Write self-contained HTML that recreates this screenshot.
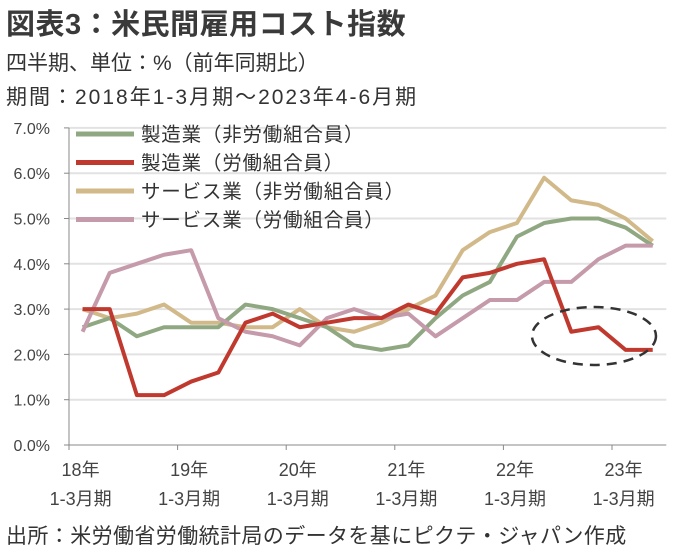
<!DOCTYPE html>
<html><head><meta charset="utf-8"><style>
body{margin:0;background:#fff;width:688px;height:558px;overflow:hidden;font-family:"Liberation Sans","Noto Sans CJK JP",sans-serif;color:#333}
.t{position:absolute;left:6px;white-space:nowrap}
</style></head><body>
<div class="t" style="top:1px;font-size:29px;font-weight:bold;color:#3a3a3a;letter-spacing:0.5px">図表3：米民間雇用コスト指数</div>
<div class="t" style="top:47px;font-size:21px">四半期、単位：%（前年同期比）</div>
<div class="t" style="top:81px;font-size:21px;letter-spacing:2px">期間：2018年1-3月期～2023年4-6月期</div>
<div class="t" style="top:520px;font-size:21px;letter-spacing:0.4px">出所：米労働省労働統計局のデータを基にピクテ・ジャパン作成</div>
<svg id="c" width="688" height="558" style="position:absolute;left:0;top:0"></svg>
<script>
const categories=["18Q1","18Q2","18Q3","18Q4","19Q1","19Q2","19Q3","19Q4","20Q1","20Q2","20Q3","20Q4","21Q1","21Q2","21Q3","21Q4","22Q1","22Q2","22Q3","22Q4","23Q1","23Q2"];
const mfgNonUnion=[2.6,2.8,2.4,2.6,2.6,2.6,3.1,3.0,2.8,2.6,2.2,2.1,2.2,2.8,3.3,3.6,4.6,4.9,5.0,5.0,4.8,4.4];
const mfgUnion=[3.0,3.0,1.1,1.1,1.4,1.6,2.7,2.9,2.6,2.7,2.8,2.8,3.1,2.9,3.7,3.8,4.0,4.1,2.5,2.6,2.1,2.1];
const svcNonUnion=[3.0,2.8,2.9,3.1,2.7,2.7,2.6,2.6,3.0,2.6,2.5,2.7,3.0,3.3,4.3,4.7,4.9,5.9,5.4,5.3,5.0,4.5];
const svcUnion=[2.5,3.8,4.0,4.2,4.3,2.8,2.5,2.4,2.2,2.8,3.0,2.8,2.9,2.4,2.8,3.2,3.2,3.6,3.6,4.1,4.4,4.4];
const yTicks=[0,1,2,3,4,5,6,7];
const yearLabels=["18年","19年","20年","21年","22年","23年"];
const seriesNames=["製造業（非労働組合員）","製造業（労働組合員）","サービス業（非労働組合員）","サービス業（労働組合員）"];
const NS="http://www.w3.org/2000/svg",svg=document.getElementById('c');
const X0=69,BW=27.15,Y0=445,YS=45.3;
const x=i=>X0+BW*(i+0.5), y=v=>Y0-v*YS;
function mk(t,a,p){const e=document.createElementNS(NS,t);for(const k in a)e.setAttribute(k,a[k]);(p||svg).appendChild(e);return e;}
yTicks.forEach(v=>{
 if(v>0){const g=mk('line',{x1:X0,x2:X0+BW*22,y1:y(v),y2:y(v),stroke:'#e2e2e2','stroke-width':2});
 
 }
 const tk=mk('line',{x1:X0-5,x2:X0,y1:y(v),y2:y(v),stroke:'#888'});
 
 
 const t=mk('text',{x:50,y:y(v)+6,'text-anchor':'end','font-size':16,fill:'#444'});t.textContent=v.toFixed(1)+'%';
 
 
});
const ya=mk('line',{x1:X0,x2:X0,y1:y(7),y2:Y0,stroke:'#888'});


const xa=mk('line',{x1:X0,x2:X0+BW*22,y1:Y0,y2:Y0,stroke:'#888'});


yearLabels.forEach((l,k)=>{
 const tk=mk('line',{x1:X0+BW*4*k,x2:X0+BW*4*k,y1:Y0,y2:Y0+5,stroke:'#888'});
 
 
 const t=mk('text',{x:x(4*k)-2,y:476,'text-anchor':'middle','font-size':18,fill:'#444'});t.textContent=l;
 
 
 const t2=mk('text',{x:x(4*k)-2,y:505,'text-anchor':'middle','font-size':18,fill:'#444'});t2.textContent='1-3月期';
 
 
});
const colors=['#8fa882','#c0392f','#d2b98a','#c59aaa'];
const data=[mfgNonUnion,mfgUnion,svcNonUnion,svcUnion];
[2,0,3,1].forEach(s=>{
 const p=mk('polyline',{points:data[s].map((v,i)=>x(i)+','+y(v)).join(' '),fill:'none',stroke:colors[s],'stroke-width':4,'stroke-linejoin':'round'});
 
 
});
seriesNames.forEach((n,k)=>{
 const ly=134+k*28.5;
 const l=mk('line',{x1:76,x2:134,y1:ly,y2:ly,stroke:colors[k],'stroke-width':5});
 
 
 const t=mk('text',{x:141,y:ly+7,'font-size':19.5,'letter-spacing':0.8,fill:'#333'});t.textContent=n;
 
 
});
const el=mk('ellipse',{cx:594,cy:336,rx:62,ry:29,fill:'none',stroke:'#333','stroke-width':2.5,'stroke-dasharray':'10 7'});


</script>
</body></html>
